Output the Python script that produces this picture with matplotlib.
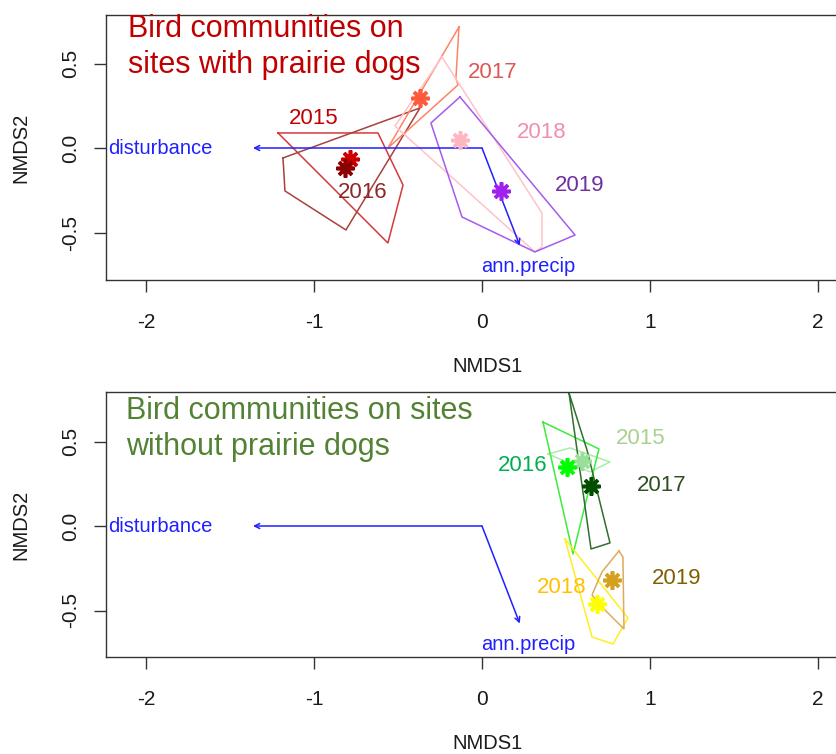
import matplotlib
matplotlib.use("Agg")
import matplotlib.pyplot as plt

plt.rcParams['font.family'] = ['Liberation Sans', 'DejaVu Sans']

# ---------------- data ----------------
years = ['2015', '2016', '2017', '2018', '2019']

# Sites with prairie dogs: hull vertices (NMDS1, NMDS2)
pd_hull_x = {
    '2015': [-1.214, -0.619, -0.470, -0.560],
    '2016': [-1.185, -1.180, -1.173, -0.810, -0.369],
    '2017': [-0.137, -0.155, -0.143, -0.560],
    '2018': [-0.238, 0.357, 0.357, 0.315, -0.518],
    '2019': [-0.131, 0.554, 0.315, -0.119, -0.304],
}
pd_hull_y = {
    '2015': [0.089, 0.089, -0.219, -0.562],
    '2016': [-0.059, -0.130, -0.254, -0.485, 0.237],
    '2017': [0.716, 0.414, 0.373, 0.000],
    '2018': [0.538, -0.385, -0.586, -0.615, 0.130],
    '2019': [0.302, -0.515, -0.615, -0.408, 0.148],
}
pd_cent_x = [-0.786, -0.815, -0.369, -0.131, 0.113]
pd_cent_y = [-0.065, -0.118, 0.296, 0.047, -0.254]
pd_lab_x = [-1.00, -0.71, 0.065, 0.357, 0.58]
pd_lab_y = [0.175, -0.266, 0.447, 0.092, -0.22]

# Sites without prairie dogs
np_hull_x = {
    '2015': [0.393, 0.524, 0.762, 0.643],
    '2016': [0.363, 0.696, 0.542],
    '2017': [0.518, 0.625, 0.762, 0.649],
    '2018': [0.494, 0.869, 0.780, 0.655],
    '2019': [0.815, 0.839, 0.845, 0.732, 0.655, 0.714],
}
np_hull_y = {
    '2015': [0.426, 0.462, 0.379, 0.320],
    '2016': [0.615, 0.456, -0.166],
    '2017': [0.787, 0.450, -0.100, -0.136],
    '2018': [-0.077, -0.544, -0.698, -0.657],
    '2019': [-0.148, -0.183, -0.609, -0.497, -0.408, -0.272],
}
np_cent_x = [0.595, 0.506, 0.649, 0.685, 0.774]
np_cent_y = [0.385, 0.349, 0.237, -0.462, -0.320]
np_lab_x = [0.946, 0.244, 1.07, 0.476, 1.16]
np_lab_y = [0.52, 0.357, 0.237, -0.362, -0.308]

# environmental vectors
vec_names = ['disturbance', 'ann.precip']
vec_x = [-1.363, 0.225]
vec_y = [0.0, -0.577]
vec_lab_x = [-1.917, 0.274]
vec_lab_y = [0.0, -0.704]

xticks = [-2, -1, 0, 1, 2]
yticks = [-0.5, 0.0, 0.5]
ytick_labels = ['-0.5', '0.0', '0.5']

# ---------------- styles ----------------
pd_line = ['#D43A3A', '#A8423C', '#FF8466', '#FFC2C8', '#A65BF0']
pd_star = ['#CC0000', '#8B0000', '#FF5A3C', '#FFB6C1', '#A020F0']
pd_text = ['#C00000', '#8B2A2A', '#E05555', '#F28DB2', '#7030A0']

np_line = ['#A8EEA8', '#3CEB3C', '#2F6F2F', '#FFEE22', '#DDAA5E']
np_star = ['#98E098', '#00FF00', '#004D00', '#FFFF00', '#D4A020']
np_text = ['#A9D18E', '#00B050', '#2F5020', '#FFC000', '#7F6000']

W, H = 837, 754
fig = plt.figure(figsize=(W / 100, H / 100), dpi=100)

X0_PX = 106
XLIM = (-2.238, 2.30)
PX_PER_UNIT = 168.0


def make_axes(top_px, bottom_px, y0_px):
    width_px = (XLIM[1] - XLIM[0]) * PX_PER_UNIT
    ax = fig.add_axes([X0_PX / W, 1 - bottom_px / H, width_px / W,
                       (bottom_px - top_px) / H])
    ax.set_xlim(*XLIM)
    ax.set_ylim((y0_px - bottom_px) / 169.0, (y0_px - top_px) / 169.0)
    ax.set_xticks(xticks)
    ax.set_xticklabels([str(t) for t in xticks])
    ax.set_yticks(yticks)
    ax.set_yticklabels(ytick_labels, rotation=90, va='center')
    ax.tick_params(axis='both', length=8.5, width=1.0, color='#333333',
                   labelsize=15, labelcolor='#1a1a1a')
    ax.tick_params(axis='x', pad=15)
    ax.tick_params(axis='y', pad=10)
    for s in ax.spines.values():
        s.set_color('#333333')
        s.set_linewidth(1.0)
    ax.set_xlabel('NMDS1', fontsize=14.5, color='#1a1a1a', labelpad=18)
    ax.set_ylabel('NMDS2', fontsize=14.5, color='#1a1a1a', labelpad=22)
    return ax


def draw_panel(ax, hx, hy, cx, cy, lx, ly, lc, sc, tc):
    for i, yr in enumerate(years):
        xs = hx[yr] + [hx[yr][0]]
        ys = hy[yr] + [hy[yr][0]]
        ax.plot(xs, ys, color=lc[i], lw=1.1, zorder=2)
    for i in range(len(vec_names)):
        ax.annotate('', xy=(vec_x[i], vec_y[i]), xytext=(0, 0),
                    arrowprops=dict(arrowstyle='->', color='#2020FF', lw=1.1,
                                    mutation_scale=9, shrinkA=0, shrinkB=0),
                    zorder=3)
        ax.text(vec_lab_x[i], vec_lab_y[i], vec_names[i], color='#2020FF',
                fontsize=14.5, ha='center', va='center', zorder=4)
    for i, yr in enumerate(years):
        ax.plot([cx[i]], [cy[i]], marker=(8, 2, 0), ms=13, mew=2.6,
                color=sc[i], zorder=5, linestyle='none')
        ax.text(lx[i], ly[i], yr, color=tc[i], fontsize=16,
                ha='center', va='center', zorder=6)


ax1 = make_axes(15, 280, 148)
draw_panel(ax1, pd_hull_x, pd_hull_y, pd_cent_x, pd_cent_y,
           pd_lab_x, pd_lab_y, pd_line, pd_star, pd_text)

ax2 = make_axes(392, 657, 526)
draw_panel(ax2, np_hull_x, np_hull_y, np_cent_x, np_cent_y,
           np_lab_x, np_lab_y, np_line, np_star, np_text)

# titles (baseline positions in pixels from top)
fig.text(128 / W, 1 - 37 / H, 'Bird communities on', color='#C00000',
         fontsize=22, va='baseline', ha='left')
fig.text(128 / W, 1 - 73 / H, 'sites with prairie dogs', color='#C00000',
         fontsize=22, va='baseline', ha='left')
fig.text(126 / W, 1 - 419 / H, 'Bird communities on sites', color='#548235',
         fontsize=22, va='baseline', ha='left')
fig.text(126 / W, 1 - 455 / H, 'without prairie dogs', color='#548235',
         fontsize=22, va='baseline', ha='left')

fig.savefig('out.png', dpi=100)
